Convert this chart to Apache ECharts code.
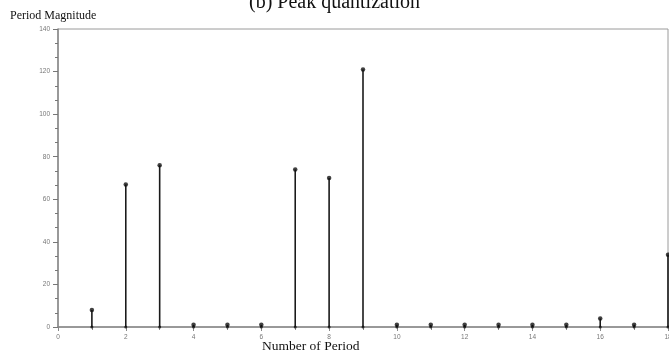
<!DOCTYPE html>
<html>
<head>
<meta charset="utf-8">
<script src="https://cdn.jsdelivr.net/npm/echarts@6/dist/echarts.min.js"></script>
<style>
  html, body { margin: 0; padding: 0; background: #fff; }
  #chart { width: 669px; height: 356px; }
</style>
</head>
<body>
<div id="chart"></div>
<script>
// period index and peak magnitude
const periods = [1, 2, 3, 4, 5, 6, 7, 8, 9, 10, 11, 12, 13, 14, 15, 16, 17, 18]
const magnitudes = [8, 67, 76, 1, 1, 1, 74, 70, 121, 1, 1, 1, 1, 1, 1, 4, 1, 34]

const stems = periods.map((p, i) => [p, magnitudes[i]])
const bases = periods.map(p => [p, 0])

const chart = echarts.init(document.getElementById('chart'))

chart.setOption({
  animation: false,
  grid: {
    left: 58,
    right: 1,
    top: 29,
    bottom: 29,
    outerBoundsMode: 'none',
    show: true,
    borderColor: '#9a9a9a',
    borderWidth: 1,
  },
  graphic: [
    {
      type: 'text',
      left: 'center',
      top: -7,
      style: { text: '(b) Peak quantization', font: '20px "Liberation Serif"', fill: '#111' },
    },
    {
      type: 'text',
      left: 10,
      top: 10,
      style: { text: 'Period Magnitude', font: '12px "Liberation Serif"', fill: '#111' },
    },
    {
      type: 'text',
      left: 262,
      top: 339,
      style: { text: 'Number of Period', font: '13.5px "Liberation Serif"', fill: '#111' },
    },
  ],
  xAxis: {
    type: 'value',
    min: 0,
    max: 18,
    interval: 2,
    axisLine: { show: true, lineStyle: { color: '#888', width: 1.5 } },
    axisTick: { show: true, inside: false, length: 4, lineStyle: { color: '#888' } },
    minorTick: { show: true, splitNumber: 2, length: 3, lineStyle: { color: '#888' } },
    axisLabel: { fontSize: 6.5, color: '#777', margin: 7, fontFamily: 'Liberation Sans' },
    splitLine: { show: false },
  },
  yAxis: {
    type: 'value',
    min: 0,
    max: 140,
    interval: 20,
    axisLine: { show: true, lineStyle: { color: '#888', width: 1.5 } },
    axisTick: { show: true, length: 5, lineStyle: { color: '#777' } },
    minorTick: { show: true, splitNumber: 3, length: 3, lineStyle: { color: '#777' } },
    axisLabel: { fontSize: 6.5, color: '#777', margin: 8, fontFamily: 'Liberation Sans' },
    splitLine: { show: false },
  },
  series: [
    {
      type: 'bar',
      data: stems,
      barWidth: 1.6,
      itemStyle: { color: '#1a1a1a' },
      z: 2,
    },
    {
      type: 'scatter',
      data: stems,
      symbol: 'circle',
      symbolSize: 4.5,
      itemStyle: { color: '#111' },
      z: 3,
    },
    {
      type: 'scatter',
      data: bases,
      symbol: 'circle',
      symbolSize: 3,
      itemStyle: { color: '#111' },
      z: 3,
    },
  ],
})
</script>
</body>
</html>
